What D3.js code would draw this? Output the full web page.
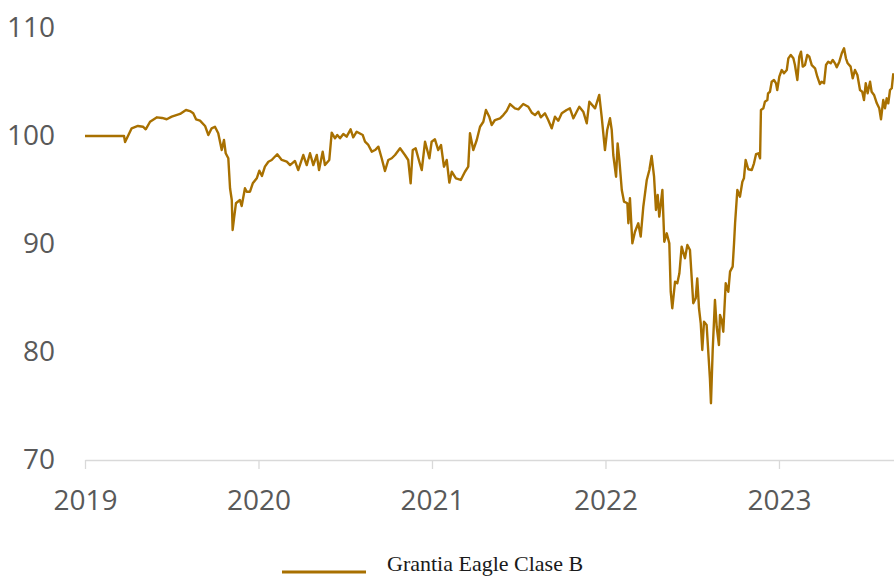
<!DOCTYPE html>
<html>
<head>
<meta charset="utf-8">
<script src="https://cdn.jsdelivr.net/npm/d3@7"></script>
<style>
    html, body { margin: 0; padding: 0; background: #ffffff; }
    svg { display: block; }
</style>
</head>
<body>
<div id="chart"></div>
<script>
// Data (decimal years, index values)
const seriesName = "Grantia Eagle Clase B";
const xTicks = [2019, 2020, 2021, 2022, 2023];
const yTicks = [70, 80, 90, 100, 110];

const years = [
    2019.000, 2019.225, 2019.231, 2019.269, 2019.305, 2019.334, 2019.350, 2019.375, 2019.415, 2019.444,
    2019.471, 2019.500, 2019.548, 2019.582, 2019.605, 2019.624, 2019.640, 2019.663, 2019.692, 2019.711,
    2019.730, 2019.749, 2019.768, 2019.788, 2019.801, 2019.811, 2019.826, 2019.836, 2019.846, 2019.851,
    2019.859, 2019.870, 2019.893, 2019.903, 2019.922, 2019.932, 2019.951, 2019.967, 2019.990, 2020.005,
    2020.020, 2020.037, 2020.057, 2020.076, 2020.108, 2020.134, 2020.163, 2020.182, 2020.210, 2020.229,
    2020.258, 2020.278, 2020.297, 2020.316, 2020.336, 2020.349, 2020.370, 2020.383, 2020.408, 2020.422,
    2020.441, 2020.454, 2020.470, 2020.489, 2020.508, 2020.531, 2020.546, 2020.566, 2020.601, 2020.614,
    2020.633, 2020.653, 2020.672, 2020.691, 2020.710, 2020.729, 2020.748, 2020.768, 2020.787, 2020.816,
    2020.844, 2020.863, 2020.877, 2020.889, 2020.906, 2020.927, 2020.941, 2020.960, 2020.985, 2020.998,
    2021.017, 2021.036, 2021.052, 2021.069, 2021.085, 2021.100, 2021.114, 2021.138, 2021.166, 2021.190,
    2021.209, 2021.219, 2021.238, 2021.258, 2021.277, 2021.296, 2021.311, 2021.330, 2021.344, 2021.363,
    2021.392, 2021.411, 2021.431, 2021.450, 2021.478, 2021.498, 2021.526, 2021.555, 2021.575, 2021.594,
    2021.613, 2021.627, 2021.651, 2021.670, 2021.690, 2021.709, 2021.728, 2021.748, 2021.776, 2021.795,
    2021.815, 2021.834, 2021.849, 2021.872, 2021.892, 2021.907, 2021.940, 2021.964, 2021.978, 2021.997,
    2022.010, 2022.026, 2022.036, 2022.045, 2022.061, 2022.070, 2022.080, 2022.094, 2022.107, 2022.126,
    2022.132, 2022.141, 2022.155, 2022.170, 2022.189, 2022.203, 2022.218, 2022.238, 2022.253, 2022.266,
    2022.280, 2022.291, 2022.301, 2022.310, 2022.328, 2022.339, 2022.353, 2022.368, 2022.376, 2022.385,
    2022.401, 2022.414, 2022.426, 2022.439, 2022.458, 2022.472, 2022.487, 2022.506, 2022.520, 2022.529,
    2022.539, 2022.549, 2022.558, 2022.568, 2022.583, 2022.593, 2022.602, 2022.608, 2022.618, 2022.631,
    2022.641, 2022.654, 2022.660, 2022.670, 2022.679, 2022.693, 2022.708, 2022.718, 2022.733, 2022.741,
    2022.747, 2022.760, 2022.775, 2022.789, 2022.798, 2022.808, 2022.823, 2022.843, 2022.856, 2022.868,
    2022.881, 2022.891, 2022.896, 2022.910, 2022.919, 2022.933, 2022.937, 2022.948, 2022.958, 2022.971,
    2022.983, 2022.990, 2023.002, 2023.016, 2023.029, 2023.045, 2023.054, 2023.068, 2023.083, 2023.092,
    2023.106, 2023.117, 2023.127, 2023.137, 2023.150, 2023.163, 2023.175, 2023.189, 2023.208, 2023.221,
    2023.236, 2023.246, 2023.260, 2023.271, 2023.284, 2023.298, 2023.310, 2023.323, 2023.333, 2023.348,
    2023.362, 2023.375, 2023.386, 2023.396, 2023.413, 2023.425, 2023.438, 2023.452, 2023.467, 2023.480,
    2023.490, 2023.500, 2023.511, 2023.525, 2023.534, 2023.548, 2023.564, 2023.578, 2023.588, 2023.601,
    2023.611, 2023.621, 2023.630, 2023.640, 2023.650, 2023.659
];

const values = [
    100.00, 100.00, 99.44, 100.71, 100.93, 100.86, 100.62, 101.32, 101.73, 101.67,
    101.55, 101.79, 102.04, 102.41, 102.31, 102.10, 101.55, 101.42, 100.93, 100.09,
    100.71, 100.86, 100.25, 98.70, 99.63, 98.40, 97.94, 95.16, 94.07, 91.30,
    92.38, 93.77, 94.07, 93.52, 95.16, 94.84, 94.84, 95.62, 96.08, 96.79,
    96.30, 97.16, 97.62, 97.78, 98.31, 97.78, 97.62, 97.31, 97.69, 96.85,
    98.24, 97.31, 98.40, 97.31, 98.24, 96.85, 98.55, 97.31, 97.78, 100.31,
    99.79, 100.09, 99.79, 100.19, 99.94, 100.62, 99.88, 100.40, 100.09, 99.47,
    99.17, 98.55, 98.70, 99.01, 97.94, 96.76, 97.78, 97.94, 98.24, 98.86,
    98.24, 97.78, 95.62, 98.70, 98.86, 97.62, 96.85, 99.47, 97.94, 99.47,
    99.69, 98.70, 99.17, 97.16, 97.78, 95.68, 96.69, 96.08, 95.93, 96.69,
    97.16, 100.25, 98.70, 99.63, 100.86, 101.32, 102.41, 101.79, 101.02, 101.48,
    101.64, 101.94, 102.34, 102.96, 102.56, 102.47, 102.96, 102.71, 102.16, 101.94,
    102.25, 101.73, 102.10, 101.48, 100.71, 101.79, 101.42, 102.10, 102.41, 102.56,
    101.64, 102.25, 102.71, 102.25, 101.18, 103.18, 102.56, 103.80, 101.79, 98.70,
    100.56, 101.64, 100.56, 98.24, 96.23, 99.32, 97.78, 95.00, 93.92, 93.77,
    91.92, 94.23, 90.06, 91.14, 91.92, 90.68, 93.45, 95.93, 96.85, 98.15,
    96.23, 93.15, 94.54, 92.53, 95.00, 90.21, 90.99, 90.06, 85.58, 84.05,
    86.51, 86.36, 87.29, 89.75, 88.68, 89.91, 89.44, 84.51, 84.97, 86.82,
    84.05, 82.66, 80.19, 82.81, 82.50, 79.88, 77.56, 75.25, 80.19, 84.81,
    82.34, 80.65, 83.43, 82.96, 81.88, 86.36, 85.58, 87.44, 87.90, 90.06,
    91.92, 95.00, 94.38, 95.77, 96.08, 97.78, 96.92, 96.85, 97.47, 98.33,
    98.40, 97.94, 102.41, 102.56, 103.18, 103.33, 103.95, 104.10, 105.03, 105.19,
    104.88, 104.26, 105.49, 106.11, 105.81, 106.11, 107.19, 107.50, 107.19, 106.57,
    105.19, 107.34, 107.81, 106.42, 106.57, 107.50, 107.34, 106.57, 106.27, 105.49,
    104.81, 105.03, 104.88, 106.57, 106.88, 106.73, 107.04, 106.73, 106.36, 106.88,
    107.66, 108.12, 107.19, 106.73, 106.42, 105.34, 106.11, 105.65, 104.26, 104.10,
    103.33, 104.88, 103.95, 105.03, 104.10, 103.80, 103.03, 102.56, 101.55, 103.33,
    102.56, 103.49, 103.03, 104.26, 104.42, 105.81
];

// Layout
const CHART = {
    width: 894,
    height: 576,
    left: 85,
    right: 894,
    top: 28,
    bottom: 460,
    xEnd: 2023.663,
    lineColor: '#a87000',
    axisColor: '#d9d9d9',
    labelColor: '#595959'
};

/**
 * Builds the whole chart
 */
function drawChart() {
    const svg = d3.select('#chart')
        .append('svg')
        .attr('width', CHART.width)
        .attr('height', CHART.height);

    const x = d3.scaleLinear()
        .domain([xTicks[0], CHART.xEnd])
        .range([CHART.left, CHART.right]);

    const y = d3.scaleLinear()
        .domain([yTicks[0], yTicks[yTicks.length - 1]])
        .range([CHART.bottom, CHART.top]);

    // X axis
    const xAxis = svg.append('g')
        .attr('transform', `translate(0,${CHART.bottom})`)
        .call(d3.axisBottom(x)
            .tickValues(xTicks)
            .tickFormat(d3.format('d'))
            .tickSizeInner(9)
            .tickSizeOuter(0)
            .tickPadding(21));

    xAxis.select('.domain').attr('stroke', CHART.axisColor).attr('stroke-width', 1.3);
    xAxis.selectAll('.tick line').attr('stroke', CHART.axisColor).attr('stroke-width', 1.3);
    xAxis.selectAll('.tick text')
        .attr('fill', CHART.labelColor)
        .style('font-family', '"Open Sans", sans-serif')
        .style('font-size', '28px');

    // Y axis (labels only)
    const yAxis = svg.append('g')
        .attr('transform', `translate(${CHART.left},0)`)
        .call(d3.axisLeft(y)
            .tickValues(yTicks)
            .tickSize(0)
            .tickPadding(30));

    yAxis.select('.domain').remove();
    yAxis.selectAll('.tick text')
        .attr('fill', CHART.labelColor)
        .style('font-family', '"Open Sans", sans-serif')
        .style('font-size', '28px');

    // Series line
    const points = years.map((t, i) => ({ t: t, v: values[i] }));
    const line = d3.line()
        .x(d => x(d.t))
        .y(d => y(d.v));

    svg.append('path')
        .datum(points)
        .attr('fill', 'none')
        .attr('stroke', CHART.lineColor)
        .attr('stroke-width', 2.4)
        .attr('stroke-linejoin', 'round')
        .attr('d', line);

    // Legend
    const legend = svg.append('g').attr('transform', 'translate(282,572)');
    legend.append('line')
        .attr('x1', 0)
        .attr('x2', 84)
        .attr('stroke', CHART.lineColor)
        .attr('stroke-width', 3);
    legend.append('text')
        .attr('x', 105)
        .attr('y', -1.5)
        .attr('fill', '#1a1a1a')
        .style('font-family', '"Liberation Serif", serif')
        .style('font-size', '22px')
        .text(seriesName);
}

drawChart();
</script>
</body>
</html>
